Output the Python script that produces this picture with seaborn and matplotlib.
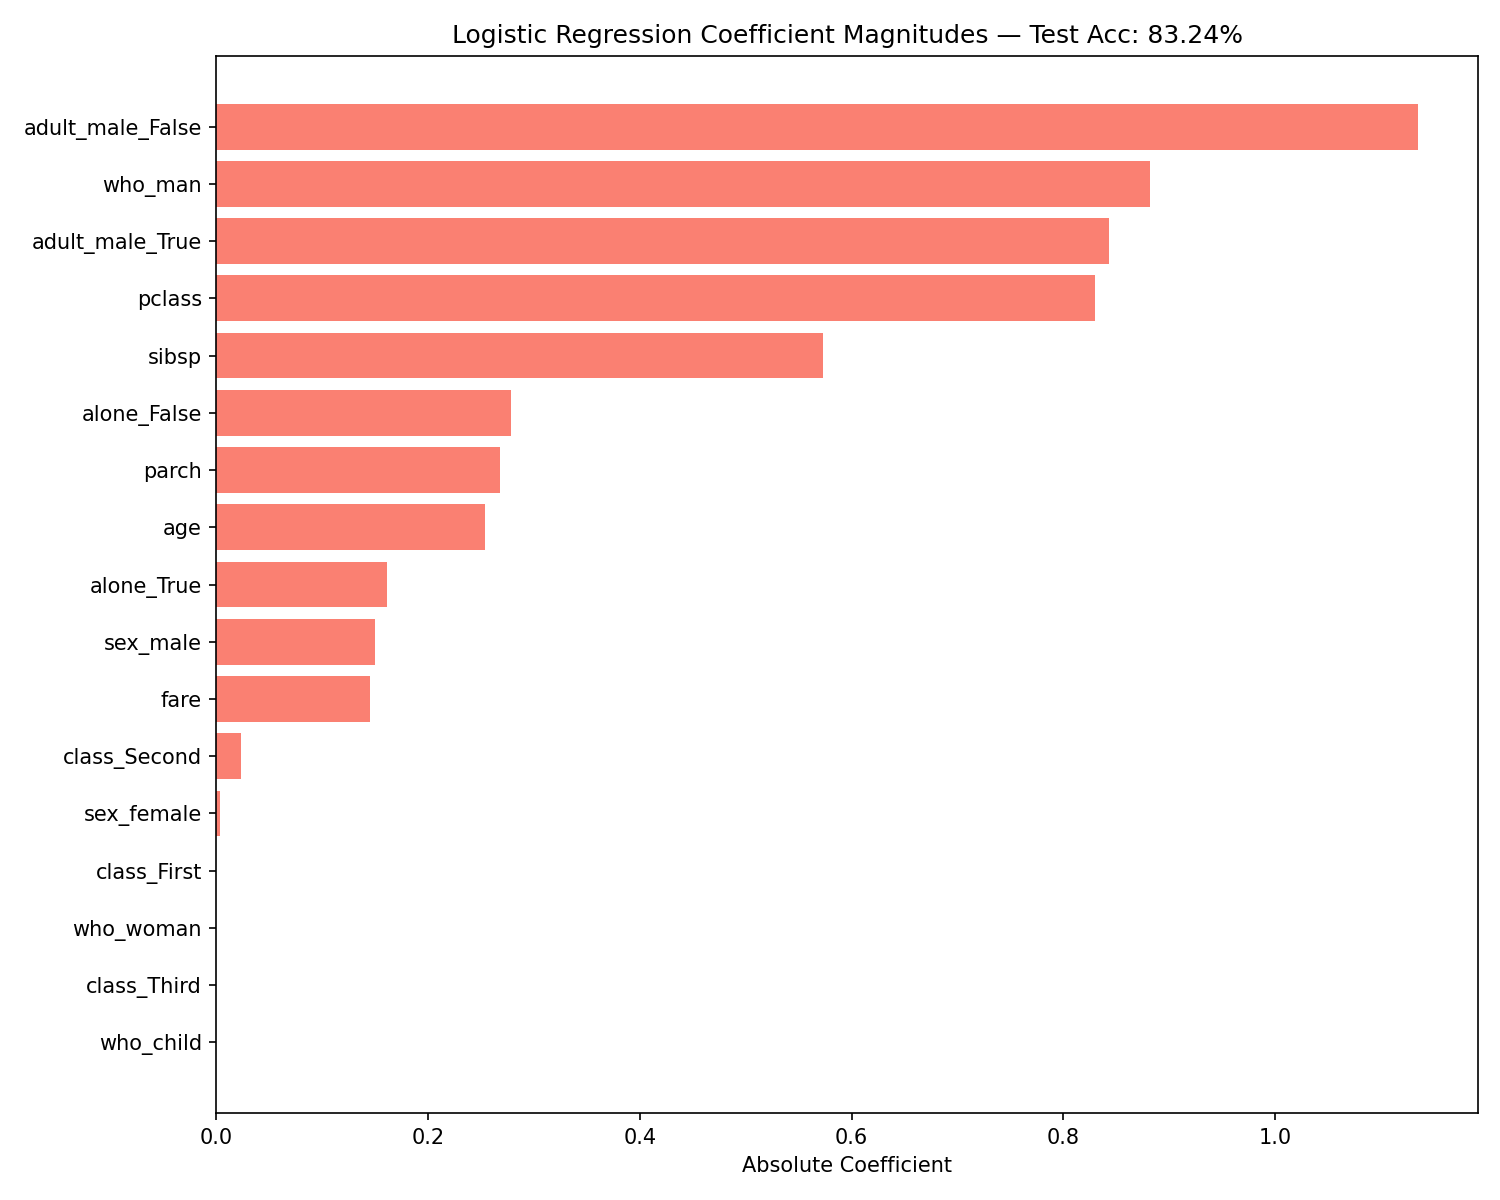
import matplotlib
matplotlib.use("Agg")
import matplotlib.pyplot as plt
import seaborn as sns
import pandas as pd

features = ["adult_male_False", "who_man", "adult_male_True", "pclass", "sibsp",
            "alone_False", "parch", "age", "alone_True", "sex_male", "fare",
            "class_Second", "sex_female", "class_First", "who_woman",
            "class_Third", "who_child"]
coefs = [1.135, 0.882, 0.843, 0.830, 0.573, 0.278, 0.2675, 0.254, 0.161,
         0.150, 0.1446, 0.0236, 0.003, 0.0, 0.0, 0.0, 0.0]

df = pd.DataFrame({"feature": features, "coef": coefs})

fig, ax = plt.subplots(figsize=(10, 8), dpi=150)
sns.barplot(data=df, x="coef", y="feature", orient="h", color="salmon",
            saturation=1, width=0.8, linewidth=0, ax=ax)
n = len(features)
ax.set_ylim(n - 1 + 0.4 + 0.84, -0.4 - 0.84)
ax.set_xlim(0, max(coefs) * 1.05)
ax.set_ylabel("")
ax.set_xlabel("Absolute Coefficient")
ax.set_title("Logistic Regression Coefficient Magnitudes — Test Acc: 83.24%")
fig.subplots_adjust(left=0.1443, right=0.9853, top=0.9536, bottom=0.0722)
fig.savefig("out.png", dpi=150)
